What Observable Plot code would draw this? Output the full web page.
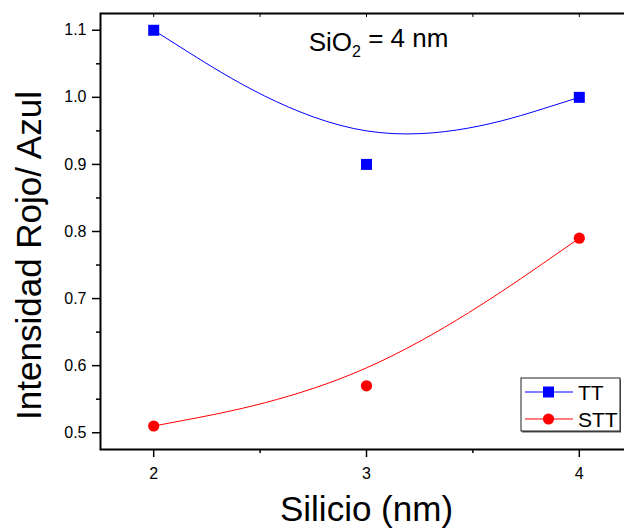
<!DOCTYPE html>
<html>
<head>
<meta charset="utf-8">
<script src="https://cdn.jsdelivr.net/npm/d3@7"></script>
<script src="https://cdn.jsdelivr.net/npm/@observablehq/plot@0.6"></script>
<style>
  html, body { margin: 0; padding: 0; background: #fff; overflow: hidden; }
  #chart svg { display: block; }
</style>
</head>
<body>
<div id="chart"></div>
<script>
// Silicon layer thickness (nm) and red/blue intensity ratio per treatment
const silicio = [2, 3, 4];
const tt = [1.1, 0.9, 1.0];
const stt = [0.51, 0.57, 0.79];
const serieNames = ["TT", "STT"];
const serieColors = ["#0000ff", "#ff0000"];

// Axis ticks
const xTicks = [2, 3, 4];
const xMinor = [2.5, 3.5];
const yTicks = [0.5, 0.6, 0.7, 0.8, 0.9, 1.0, 1.1];
const yMinor = [0.55, 0.65, 0.75, 0.85, 0.95, 1.05];

const titleText = "SiO2 = 4 nm";
const xLabel = "Silicio (nm)";
const yLabel = "Intensidad Rojo/ Azul";

const rows = [
  ...silicio.map((x, i) => ({x, y: tt[i], serie: "TT"})),
  ...silicio.map((x, i) => ({x, y: stt[i], serie: "STT"}))
];

const font = "'Liberation Sans', Arial, sans-serif";

const chart = Plot.plot({
  width: 624,
  height: 529,
  marginLeft: 100,
  marginRight: -8,
  marginTop: 13,
  marginBottom: 80,
  style: {fontFamily: font, background: "#fff", maxWidth: "none", color: "#000"},
  x: {domain: [1.75, 4.25]},
  y: {domain: [0.475, 1.125]},
  color: {domain: serieNames, range: serieColors},
  marks: [
    Plot.axisY({ticks: yTicks, tickSize: 8, tickPadding: 6, tickFormat: d3.format(".1f"),
      fontSize: 16, strokeWidth: 1.5, label: null}),
    Plot.axisY({ticks: yMinor, tickSize: 4, tickFormat: () => "", strokeWidth: 1.5, label: null}),
    Plot.axisX({ticks: xTicks, tickSize: 8, tickPadding: 10, tickFormat: d3.format("d"),
      fontSize: 16, strokeWidth: 1.5, label: null}),
    Plot.axisX({ticks: xMinor, tickSize: 4, tickFormat: () => "", strokeWidth: 1.5, label: null}),
    Plot.axisX({anchor: "top", ticks: [...xTicks, ...xMinor], tickSize: -3, tickFormat: () => "",
      strokeWidth: 1, label: null}),
    Plot.frame({stroke: "#000", strokeWidth: 2}),
    Plot.line(rows, {x: "x", y: "y", z: "serie", stroke: "serie", curve: "basis", strokeWidth: 1}),
    Plot.dot(rows.filter(d => d.serie === "TT"), {x: "x", y: "y", symbol: "square", r: 6.2, fill: serieColors[0]}),
    Plot.dot(rows.filter(d => d.serie === "STT"), {x: "x", y: "y", symbol: "circle", r: 5.6, fill: serieColors[1]}),
    Plot.text([titleText], {frameAnchor: "top", dx: 12, dy: 37, lineAnchor: "bottom", textAnchor: "middle",
      fontSize: 26, fill: "#000", className: "chart-title"}),
    Plot.text([xLabel], {frameAnchor: "bottom", dy: 71, lineAnchor: "bottom", textAnchor: "middle",
      fontSize: 35, fill: "#000"}),
    Plot.text([yLabel], {frameAnchor: "left", dx: -60, dy: 24, rotate: -90, lineAnchor: "bottom",
      textAnchor: "middle", fontSize: 35, fill: "#000"})
  ]
});

document.getElementById("chart").appendChild(chart);
const svg = d3.select(chart);

// Subscript for the oxide formula
svg.selectAll("g.chart-title text").each(function () {
  const t = d3.select(this);
  t.text(null);
  t.append("tspan").text("SiO");
  t.append("tspan").attr("font-size", 16).attr("dy", "0.38em").text("2");
  t.append("tspan").attr("dy", "-0.38em").text(" = 4 nm");
});

// Legend box, bottom right of the frame
const lx = 521, ly = 378, lw = 99, lh = 53;
const legend = svg.append("g").attr("font-family", font).attr("text-anchor", "start");
legend.append("rect").attr("x", lx + 1).attr("y", ly + 1.5).attr("width", lw).attr("height", lh)
  .attr("fill", "#555");
legend.append("rect").attr("x", lx).attr("y", ly).attr("width", lw).attr("height", lh)
  .attr("fill", "#fff").attr("stroke", "#222").attr("stroke-width", 1);
serieNames.forEach((name, i) => {
  const cy = ly + 14 + i * 27;
  const c = serieColors[i];
  legend.append("line").attr("x1", lx + 4).attr("x2", lx + 52).attr("y1", cy).attr("y2", cy)
    .attr("stroke", c).attr("stroke-width", 1);
  if (i === 0) {
    legend.append("rect").attr("x", lx + 22).attr("y", cy - 5.5).attr("width", 11).attr("height", 11).attr("fill", c);
  } else {
    legend.append("circle").attr("cx", lx + 27.5).attr("cy", cy).attr("r", 5.6).attr("fill", c);
  }
  legend.append("text").attr("x", lx + 57).attr("y", cy + 7.5).attr("font-size", 21)
    .attr("text-anchor", "start").attr("fill", "#000").text(name);
});
</script>
</body>
</html>
